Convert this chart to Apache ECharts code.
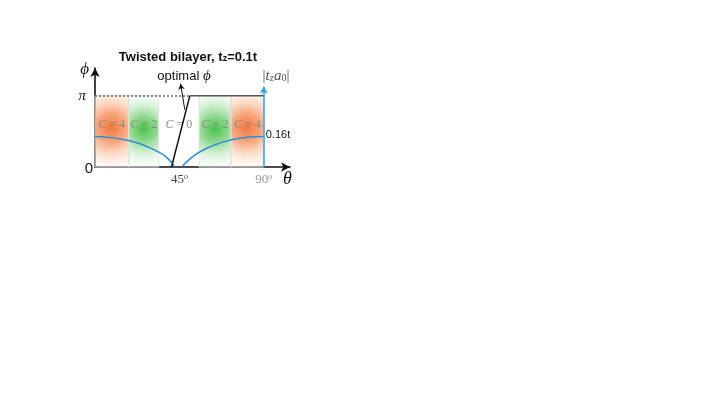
<!DOCTYPE html>
<html>
<head>
<meta charset="utf-8">
<script src="https://cdn.jsdelivr.net/npm/echarts@6/dist/echarts.min.js"></script>
<style>
  html, body { margin: 0; padding: 0; background: #fff; }
  #main { width: 727px; height: 409px; }
</style>
</head>
<body>
<div id="main"></div>
<script>
const PI = Math.PI;

// |t_z a_0| curve (theta in degrees, value in units of t)
const tzLeft = [[0, 0.160], [5, 0.158], [10, 0.153], [15, 0.145], [20, 0.134], [25, 0.118],
                [30, 0.098], [35, 0.073], [38, 0.052], [41, 0.022], [42.5, 0]];
const tzRight = [[46.5, 0], [48, 0.018], [51, 0.045], [55, 0.074], [60, 0.100], [65, 0.120],
                 [70, 0.136], [75, 0.147], [80, 0.155], [85, 0.159], [90, 0.160]];

// optimal phi
const optDiag = [[40.8, 0], [50.6, PI]];
const optTop = [[50.6, PI], [90, PI]];

// Chern number regions
const bandEdges = [0, 18, 34, 55.5, 72.5, 90];
const bandC = [4, 2, 0, 2, 4];

const xTicks = [45, 90];
const yTicks = [0, PI];

const chartDom = document.getElementById('main');
const myChart = echarts.init(chartDom);

const serif = '"Liberation Serif", "DejaVu Serif", serif';
const sans = '"Liberation Sans", Arial, sans-serif';

function bandColor(c) {
    if (c === 4) {
        return new echarts.graphic.RadialGradient(0.48, 0.45, 1.4, [
            { offset: 0, color: 'rgba(240,110,50,0.95)' },
            { offset: 0.3, color: 'rgba(244,135,80,0.75)' },
            { offset: 0.65, color: 'rgba(250,195,160,0.35)' },
            { offset: 1, color: 'rgba(255,255,255,0)' }
        ]);
    }
    if (c === 2) {
        return new echarts.graphic.RadialGradient(0.5, 0.47, 1.4, [
            { offset: 0, color: 'rgba(60,190,60,0.95)' },
            { offset: 0.3, color: 'rgba(100,200,100,0.7)' },
            { offset: 0.65, color: 'rgba(170,225,170,0.3)' },
            { offset: 1, color: 'rgba(255,255,255,0)' }
        ]);
    }
    return 'rgba(255,255,255,0)';
}

const bands = bandC.map(function (c, i) {
    return [
        {
            xAxis: bandEdges[i], yAxis: -0.22,
            itemStyle: {
                color: bandColor(c),
                borderColor: c === 0 ? 'rgba(0,0,0,0)' : '#e2e2e2',
                borderWidth: 1
            },
            label: { formatter: '{i|C} = ' + c }
        },
        { xAxis: bandEdges[i + 1], yAxis: PI }
    ];
});

const tzData = tzLeft.concat([[44.5, '-']], tzRight);

const option = {
    animation: false,
    grid: { left: 95, top: 68, width: 195, height: 99 },
    xAxis: {
        type: 'value',
        min: 0,
        max: 104,
        splitLine: { show: false },
        axisTick: { show: false },
        axisLine: {
            onZero: false,
            symbol: ['none', 'arrow'],
            symbolSize: [7, 9],
            lineStyle: { color: '#111', width: 1.6 }
        },
        axisLabel: {
            customValues: xTicks,
            margin: 6,
            formatter: function (v) {
                const k = v === 90 ? 'l' : 'd';
                return '{' + k + '|' + v + '}{' + k + 's|o}';
            },
            rich: {
                d: { fontFamily: serif, fontSize: 13, color: '#444' },
                ds: { fontFamily: serif, fontStyle: 'italic', fontSize: 8, color: '#444', verticalAlign: 'top', padding: [0, 0, 6, 0] },
                l: { fontFamily: serif, fontSize: 13, color: '#999' },
                ls: { fontFamily: serif, fontStyle: 'italic', fontSize: 8, color: '#999', verticalAlign: 'top', padding: [0, 0, 6, 0] }
            }
        },
        name: 'θ',
        nameLocation: 'end',
        nameGap: -7,
        nameTextStyle: {
            fontFamily: serif, fontStyle: 'italic', fontSize: 18, color: '#111',
            align: 'left', verticalAlign: 'top', padding: [3, 0, 0, 0]
        }
    },
    yAxis: [
        {
            type: 'value',
            min: 0,
            max: 4.36,
            splitLine: { show: false },
            axisTick: { show: false },
            axisLine: {
                symbol: ['none', 'arrow'],
                symbolSize: [7, 9],
                lineStyle: { color: '#111', width: 1.6 }
            },
            axisLabel: {
                customValues: yTicks,
                margin: 2,
                formatter: function (v) {
                    return v === 0 ? '{z|0}' : '{p|π}';
                },
                rich: {
                    z: { fontFamily: sans, fontSize: 15, color: '#111', padding: [4, 0, 0, 0] },
                    p: { fontFamily: serif, fontStyle: 'italic', fontSize: 15, color: '#111', padding: [0, 7, 0, 0] }
                }
            },
            name: 'ϕ',
            nameLocation: 'end',
            nameGap: -2,
            nameTextStyle: {
                fontFamily: serif, fontStyle: 'italic', fontSize: 17, color: '#111',
                align: 'right', verticalAlign: 'middle', padding: [0, 6, 0, 0]
            }
        },
        {
            type: 'value',
            min: 0,
            max: 0.52,
            show: false
        }
    ],
    graphic: [
        {
            type: 'text', x: 188, y: 57,
            style: {
                text: '{b|Twisted bilayer, t}{s|z}{b|=0.1t}',
                align: 'center', verticalAlign: 'middle',
                rich: {
                    b: { fontFamily: sans, fontWeight: 'bold', fontSize: 13, fill: '#111' },
                    s: { fontFamily: sans, fontWeight: 'bold', fontSize: 9, fill: '#111', verticalAlign: 'bottom', padding: [3, 0, 0, 0] }
                }
            }
        },
        {
            type: 'text', x: 184, y: 76,
            style: {
                text: '{a|optimal }{f|ϕ}',
                align: 'center', verticalAlign: 'middle',
                rich: {
                    a: { fontFamily: sans, fontSize: 13, fill: '#111' },
                    f: { fontFamily: serif, fontStyle: 'italic', fontSize: 15, fill: '#111' }
                }
            }
        },
        {
            type: 'text', x: 276, y: 76,
            style: {
                text: '{n||}{i|t}{s|z}{i|a}{s|0}{n||}',
                align: 'center', verticalAlign: 'middle',
                rich: {
                    n: { fontFamily: serif, fontSize: 15, fill: '#555' },
                    i: { fontFamily: serif, fontStyle: 'italic', fontSize: 15, fill: '#555' },
                    s: { fontFamily: serif, fontSize: 10, fill: '#555', verticalAlign: 'bottom', padding: [4, 0, 0, 0] }
                }
            }
        }
    ],
    series: [
        {
            name: 'bands',
            type: 'line',
            data: [],
            z: 1,
            markArea: {
                silent: true,
                label: {
                    show: true,
                    position: 'inside',
                    offset: [0, -6],
                    fontFamily: serif,
                    fontSize: 12,
                    color: '#8a8a8a',
                    rich: { i: { fontFamily: serif, fontStyle: 'italic', fontSize: 12, color: '#8a8a8a' } }
                },
                data: bands
            }
        },
        {
            name: 'tz',
            type: 'line',
            yAxisIndex: 1,
            data: tzData,
            smooth: 0.3,
            showSymbol: false,
            z: 3,
            lineStyle: { color: '#2b8cd6', width: 1.5 },
            itemStyle: { color: '#2b8cd6' },
            endLabel: {
                show: true,
                formatter: function (p) { return p.value[1].toFixed(2) + 't'; },
                fontFamily: sans,
                fontSize: 11,
                color: '#111',
                distance: 2,
                offset: [0, -2]
            }
        },
        {
            name: 'optimal',
            type: 'line',
            data: optDiag,
            showSymbol: false,
            z: 4,
            lineStyle: { color: '#111', width: 1.5 },
            markLine: {
                silent: true,
                label: { show: false },
                data: [
                    [
                        { coord: [0, PI], symbol: 'none', lineStyle: { color: '#666', type: [2, 2], width: 1.5 } },
                        { coord: [optTop[0][0], PI], symbol: 'none' }
                    ],
                    [
                        { coord: [45.6, 3.67], symbol: 'arrow', symbolSize: [5, 6], lineStyle: { color: '#111', type: 'solid', width: 1 } },
                        { coord: [47.9, 2.52], symbol: 'none' }
                    ],
                    [
                        { coord: [90, 0], symbol: 'none', lineStyle: { color: '#2ba0e6', type: 'solid', width: 1.5 } },
                        { coord: [90, 3.54], symbol: 'arrow', symbolSize: [6, 7] }
                    ]
                ]
            }
        },
        {
            name: 'optimalTop',
            type: 'line',
            data: optTop,
            showSymbol: false,
            z: 4,
            lineStyle: { color: '#555', width: 1.5 }
        }
    ]
};

option && myChart.setOption(option);
</script>
</body>
</html>
